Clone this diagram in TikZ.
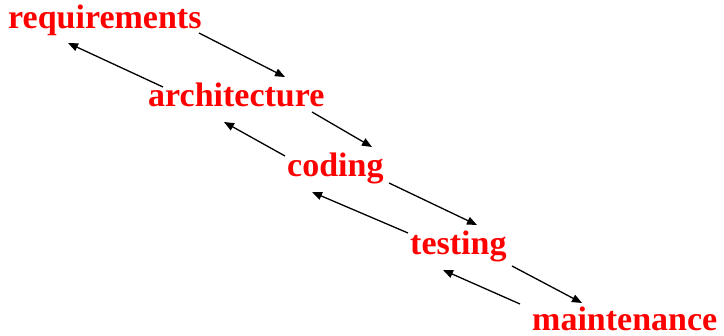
\documentclass[tikz,border=0pt]{standalone}
\usepackage{fontspec}
\setmainfont{Liberation Serif}
\usetikzlibrary{arrows.meta}
\begin{document}
\begin{tikzpicture}[x=1pt,y=-1pt,
  phase/.style={anchor=base west,inner sep=0pt,text=red,
    font=\fontsize{34}{40}\selectfont\bfseries},
  flow/.style={draw=black,line width=1.3pt,-{Triangle[length=10pt,width=8pt]}}]
\useasboundingbox (0,0) rectangle (724,336);
% phases of the waterfall
\node[phase] (req)  at (8,29)    {requirements};
\node[phase] (arch) at (148,107) {architecture};
\node[phase] (cod)  at (287,177) {coding};
\node[phase] (tst)  at (410,255) {testing};
\node[phase] (mnt)  at (532,331) {maintenance};
% arrow end points
\coordinate (f1s) at (199,33);  \coordinate (f1e) at (285,77);
\coordinate (b1s) at (163,87);  \coordinate (b1e) at (68,43);
\coordinate (f2s) at (312,112); \coordinate (f2e) at (372,147);
\coordinate (b2s) at (285,156); \coordinate (b2e) at (224,122);
\coordinate (f3s) at (389,183); \coordinate (f3e) at (477,225);
\coordinate (b3s) at (408,233); \coordinate (b3e) at (312,192);
\coordinate (f4s) at (512,266); \coordinate (f4e) at (582,303);
\coordinate (b4s) at (520,304); \coordinate (b4e) at (443,270);
% forward and feedback arrows
\draw[flow] (f1s) -- (f1e);
\draw[flow] (b1s) -- (b1e);
\draw[flow] (f2s) -- (f2e);
\draw[flow] (b2s) -- (b2e);
\draw[flow] (f3s) -- (f3e);
\draw[flow] (b3s) -- (b3e);
\draw[flow] (f4s) -- (f4e);
\draw[flow] (b4s) -- (b4e);
\end{tikzpicture}
\end{document}
